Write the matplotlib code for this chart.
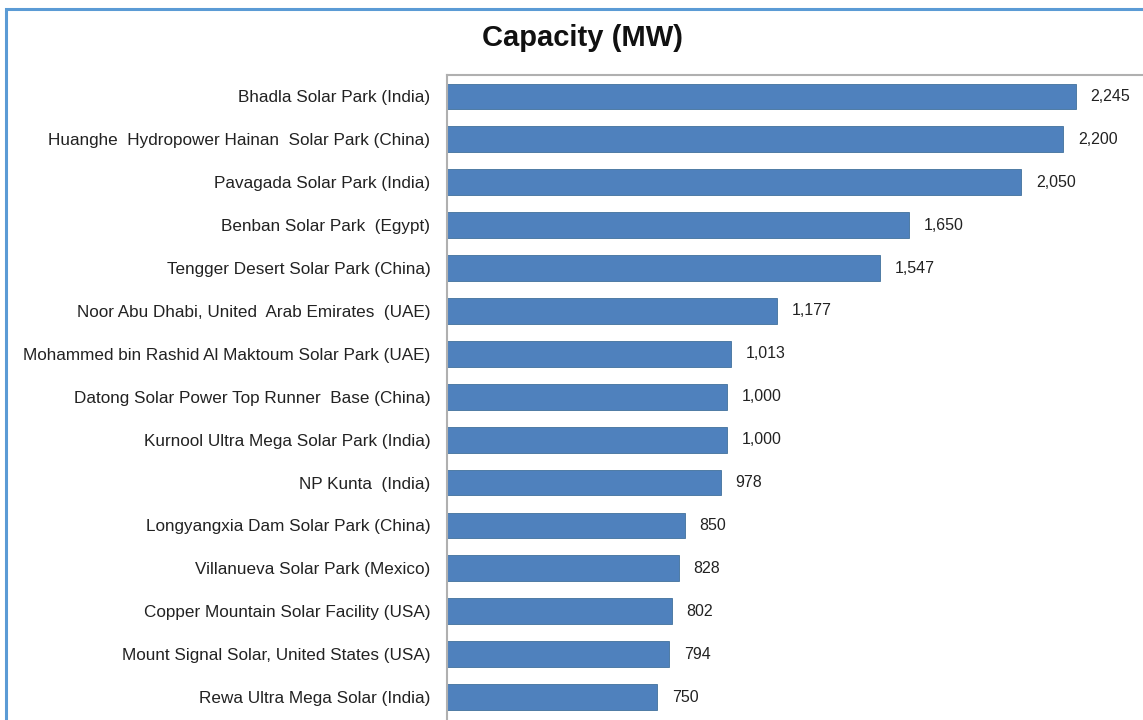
import matplotlib

matplotlib.use("Agg")
import matplotlib.pyplot as plt
from matplotlib.patches import Rectangle

plt.rcParams["font.family"] = ["Liberation Sans", "DejaVu Sans"]

parks = [
    "Bhadla Solar Park (India)",
    "Huanghe  Hydropower Hainan  Solar Park (China)",
    "Pavagada Solar Park (India)",
    "Benban Solar Park  (Egypt)",
    "Tengger Desert Solar Park (China)",
    "Noor Abu Dhabi, United  Arab Emirates  (UAE)",
    "Mohammed bin Rashid Al Maktoum Solar Park (UAE)",
    "Datong Solar Power Top Runner  Base (China)",
    "Kurnool Ultra Mega Solar Park (India)",
    "NP Kunta  (India)",
    "Longyangxia Dam Solar Park (China)",
    "Villanueva Solar Park (Mexico)",
    "Copper Mountain Solar Facility (USA)",
    "Mount Signal Solar, United States (USA)",
    "Rewa Ultra Mega Solar (India)",
]
capacity_mw = [2245, 2200, 2050, 1650, 1547, 1177, 1013, 1000, 1000, 978,
               850, 828, 802, 794, 750]

W, H = 1143, 720
fig = plt.figure(figsize=(W / 100, H / 100), dpi=100)

# outer blue frame (cropped screenshot, so it runs off right/bottom)
fig.patches.append(Rectangle((6 / W, -0.1), 1.2, 1 - 9 / H + 0.1,
                             transform=fig.transFigure, fill=False,
                             edgecolor="#5b9bd5", lw=2.2))

fig.text(583 / W, 1 - 38 / H, "Capacity (MW)", ha="center", va="center",
         fontsize=21, fontweight="bold", color="#111111",
         family=["Liberation Sans", "DejaVu Sans"])

# plot area: left 447 px, top 75 px, runs past the right edge
xmax = 2700
px_per_unit = 629 / 2245
left, top = 447, 75
right = left + xmax * px_per_unit
bottom = 697 + 21.5
ax = fig.add_axes([left / W, 1 - bottom / H, (right - left) / W, (bottom - top) / H])

ypos = range(len(parks))
ax.barh(ypos, capacity_mw, height=0.6, color="#4f81bd", edgecolor="#41719c", lw=0.6)
for y, v in zip(ypos, capacity_mw):
    ax.text(v + 52, y, f"{v:,}", va="center", ha="left", fontsize=11.5,
            color="#222222", family=["Liberation Sans", "DejaVu Sans"])

ax.set_xlim(0, xmax)
ax.set_ylim(len(parks) - 0.5, -0.5)
ax.set_yticks(list(ypos))
ax.set_yticklabels(parks, fontsize=12.3, color="#222222",
                   family=["Liberation Sans", "DejaVu Sans"])
ax.tick_params(axis="y", length=0, pad=12)
ax.set_xticks([])
for s in ("bottom", "right"):
    ax.spines[s].set_visible(False)
for s in ("left", "top"):
    ax.spines[s].set_color("#b0b0b0")
    ax.spines[s].set_linewidth(1.5)

fig.savefig("out.png", dpi=100)
